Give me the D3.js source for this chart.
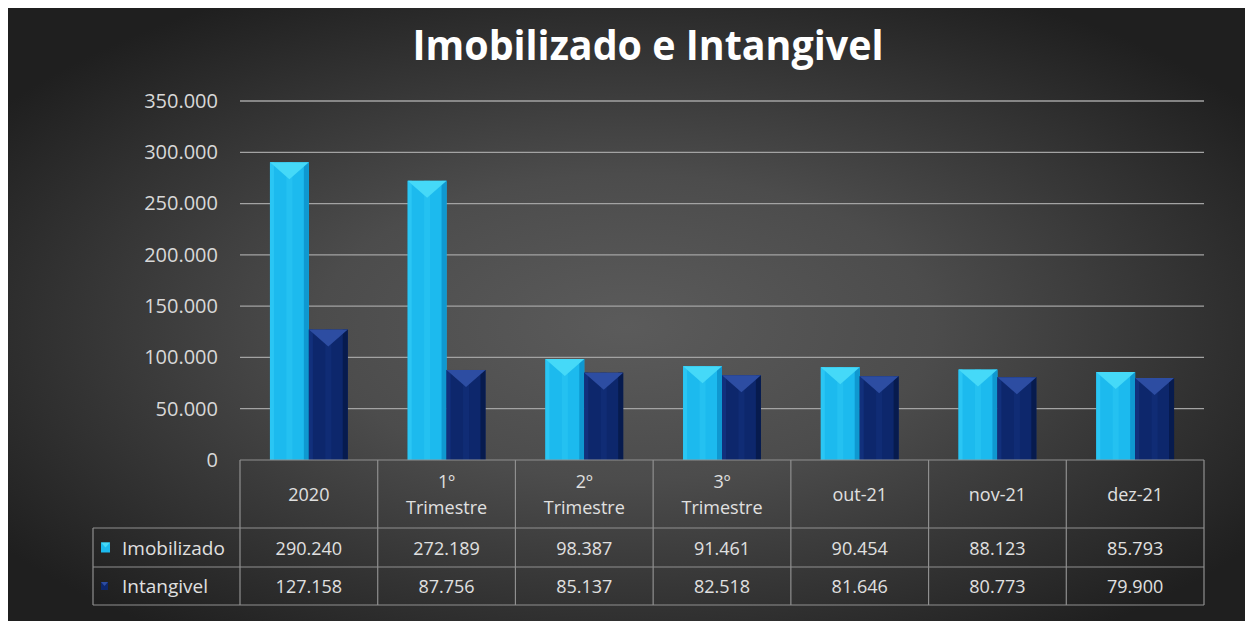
<!DOCTYPE html>
<html>
<head>
<meta charset="utf-8">
<script src="https://cdn.jsdelivr.net/npm/d3@7"></script>
<style>
  body { margin: 0; background: #fff; }
  svg { display: block; }
</style>
</head>
<body>
<script>
// dados do grafico
const categories = ['2020', '1º Trimestre', '2º Trimestre', '3º Trimestre', 'out-21', 'nov-21', 'dez-21'];
const seriesNames = ['Imobilizado', 'Intangivel'];
const imobilizado = [290240, 272189, 98387, 91461, 90454, 88123, 85793];
const intangivel = [127158, 87756, 85137, 82518, 81646, 80773, 79900];
const yTicks = [0, 50000, 100000, 150000, 200000, 250000, 300000, 350000];
const chartTitle = 'Imobilizado e Intangivel';

const width = 1245;
const height = 621;
const plotLeft = 240, plotRight = 1204;
const plotTop = 101, plotBottom = 460;
const row1 = 528, row2 = 567, tableBottom = 605, legendLeft = 93;

const ptBR = d3.formatLocale({decimal: ',', thousands: '.', grouping: [3], currency: ['R$', '']});
const fmt = ptBR.format(',.0f');

const series = [
  {name: seriesNames[0], values: imobilizado, top: '#45d9f8', main: '#1cbaee', light: '#2ac6f4', right: '#0f98d0'},
  {name: seriesNames[1], values: intangivel, top: '#2d4da2', main: '#0d276c', light: '#12307c', right: '#071b4e'}
];

const svg = d3.select('body').append('svg')
  .attr('width', width)
  .attr('height', height);

const defs = svg.append('defs');
const bg = defs.append('radialGradient')
  .attr('id', 'bg')
  .attr('cx', '50%').attr('cy', '52%').attr('r', '62%');
bg.append('stop').attr('offset', '0%').attr('stop-color', '#5b5b5b');
bg.append('stop').attr('offset', '40%').attr('stop-color', '#4c4c4c');
bg.append('stop').attr('offset', '100%').attr('stop-color', '#1f1f1f');

// fundo (com a borda branca em cima e a esquerda)
svg.append('rect')
  .attr('x', 8).attr('y', 8)
  .attr('width', width - 8).attr('height', height - 8)
  .attr('fill', 'url(#bg)');

// escalas
const x = d3.scaleBand().domain(categories).range([plotLeft, plotRight]);
const xs = d3.scaleBand().domain(seriesNames).range([0, x.bandwidth()]).paddingOuter(0.77);
const y = d3.scaleLinear().domain([0, 350000]).range([plotBottom, plotTop]);

// linhas de grade
svg.append('g')
  .selectAll('line')
  .data(yTicks.filter(d => d > 0))
  .enter()
  .append('line')
  .attr('x1', plotLeft).attr('x2', plotRight)
  .attr('y1', d => y(d)).attr('y2', d => y(d))
  .attr('stroke', '#a3a3a3')
  .attr('stroke-width', 1.3);

// eixo y (so os rotulos)
const yAxis = svg.append('g')
  .attr('transform', 'translate(' + (plotLeft - 4) + ',0)')
  .call(d3.axisLeft(y).tickValues(yTicks).tickFormat(fmt).tickSize(0).tickPadding(18));
yAxis.select('.domain').remove();
yAxis.selectAll('text')
  .attr('fill', '#d8d8d8')
  .attr('font-family', 'Open Sans')
  .attr('font-size', 20);

// barras com chanfro
function drawBar(g, x0, w, top, base, s) {
  const x1 = x0 + w, xm = x0 + w / 2;
  const bev = Math.min(17, (base - top) / 2);
  g.append('rect').attr('x', x0).attr('y', top).attr('width', w).attr('height', base - top).attr('fill', s.main);
  g.append('rect').attr('x', x0).attr('y', top).attr('width', 4).attr('height', base - top).attr('fill', s.light);
  g.append('rect').attr('x', xm - 3).attr('y', top).attr('width', 6).attr('height', base - top).attr('fill', s.light).attr('opacity', 0.6);
  g.append('rect').attr('x', x1 - 5).attr('y', top).attr('width', 5).attr('height', base - top).attr('fill', s.right);
  g.append('path')
    .attr('d', 'M' + x0 + ',' + top + 'L' + x1 + ',' + top + 'L' + xm + ',' + (top + bev) + 'Z')
    .attr('fill', s.top);
}

const bars = svg.append('g');
series.forEach(s => {
  categories.forEach((c, i) => {
    drawBar(bars, x(c) + xs(s.name), xs.bandwidth(), y(s.values[i]), y(0), s);
  });
});

// tabela de dados
const grid = svg.append('g').attr('stroke', '#8f8f8f').attr('stroke-width', 1.2);
grid.append('line').attr('x1', plotLeft).attr('x2', plotRight).attr('y1', plotBottom).attr('y2', plotBottom);
[row1, row2, tableBottom].forEach(r => {
  grid.append('line').attr('x1', legendLeft).attr('x2', plotRight).attr('y1', r).attr('y2', r);
});
categories.concat(['end']).forEach((c, i) => {
  const xx = plotLeft + i * x.step();
  grid.append('line').attr('x1', xx).attr('x2', xx).attr('y1', plotBottom).attr('y2', tableBottom);
});
grid.append('line').attr('x1', legendLeft).attr('x2', legendLeft).attr('y1', row1).attr('y2', tableBottom);

const txt = svg.append('g')
  .attr('font-family', 'Open Sans')
  .attr('font-size', 18)
  .attr('fill', '#e0e0e0')
  .attr('text-anchor', 'middle')
  .attr('dominant-baseline', 'central');

categories.forEach(c => {
  const parts = c.split(' ');
  const cx = x(c) + x.bandwidth() / 2;
  const t = txt.append('text');
  if (parts.length === 1) {
    t.attr('x', cx).attr('y', (plotBottom + row1) / 2).text(c);
  } else {
    t.append('tspan').attr('x', cx).attr('y', 481).text(parts[0]);
    t.append('tspan').attr('x', cx).attr('y', 507).text(parts[1]);
  }
});

const rows = [row1, row2, tableBottom];
series.forEach((s, j) => {
  const cy = (rows[j] + rows[j + 1]) / 2;
  s.values.forEach((v, i) => {
    txt.append('text')
      .attr('x', x(categories[i]) + x.bandwidth() / 2)
      .attr('y', cy)
      .text(fmt(v));
  });
  // chave da legenda
  const kw = j === 0 ? 9 : 7;
  const kh = j === 0 ? 10 : 8;
  const kx = 101, ky = cy - kh / 2;
  svg.append('rect').attr('x', kx).attr('y', ky).attr('width', kw).attr('height', kh).attr('fill', s.main);
  svg.append('path')
    .attr('d', 'M' + kx + ',' + ky + 'L' + (kx + kw) + ',' + ky + 'L' + (kx + kw / 2) + ',' + (ky + kh / 2) + 'Z')
    .attr('fill', s.top);
  txt.append('text')
    .attr('x', 122)
    .attr('y', cy)
    .attr('text-anchor', 'start')
    .attr('font-size', 19)
    .text(s.name);
});

// titulo
svg.append('text')
  .attr('x', 648)
  .attr('y', 60)
  .attr('text-anchor', 'middle')
  .attr('font-family', 'Open Sans')
  .attr('font-weight', 700)
  .attr('font-size', 41)
  .attr('fill', '#ffffff')
  .attr('textLength', 471)
  .attr('lengthAdjust', 'spacingAndGlyphs')
  .text(chartTitle);
</script>
</body>
</html>
